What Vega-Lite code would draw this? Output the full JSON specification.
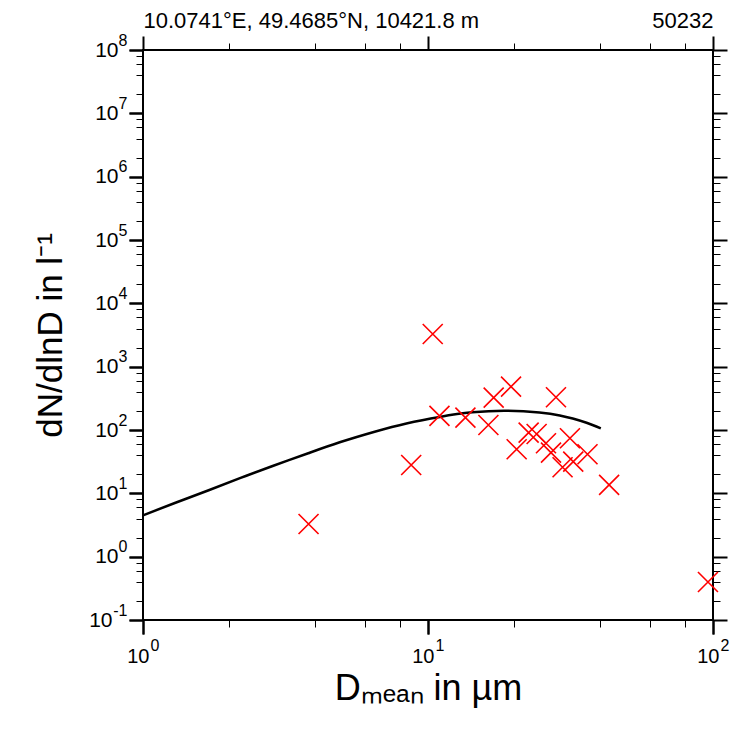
{
  "$schema": "https://vega.github.io/schema/vega-lite/v6.json",
  "width": 570,
  "height": 570,
  "autosize": "none",
  "padding": {"left": 143, "top": 50, "right": 34, "bottom": 111},
  "background": "white",
  "config": {
    "view": {"stroke": "black", "strokeWidth": 2},
    "axis": {
      "domain": false,
      "grid": false,
      "tickColor": "black",
      "labelFont": "Liberation Sans",
      "titleFont": "Liberation Sans",
      "labelColor": "black",
      "titleColor": "black",
      "titleFontWeight": "normal"
    }
  },
  "datasets": {
    "obs": [
      {"D": 3.81, "N": 3.28},
      {"D": 8.73, "N": 28.0},
      {"D": 10.39, "N": 3284},
      {"D": 10.97, "N": 167},
      {"D": 13.53, "N": 157},
      {"D": 16.29, "N": 120},
      {"D": 17.0, "N": 324},
      {"D": 19.56, "N": 483},
      {"D": 20.47, "N": 49.6},
      {"D": 28.12, "N": 329},
      {"D": 22.55, "N": 90.8},
      {"D": 24.05, "N": 86.6},
      {"D": 25.94, "N": 61.8},
      {"D": 27.01, "N": 43.9},
      {"D": 31.48, "N": 74.1},
      {"D": 29.66, "N": 25.8},
      {"D": 32.33, "N": 31.6},
      {"D": 36.28, "N": 41.4},
      {"D": 43.2, "N": 13.6},
      {"D": 96.0, "N": 0.398}
    ],
    "fit": [
      {"D": 1.0, "N": 4.5},
      {"D": 1.3, "N": 7.1},
      {"D": 1.7, "N": 11.2},
      {"D": 2.2, "N": 17.5},
      {"D": 2.85, "N": 27},
      {"D": 3.8, "N": 43},
      {"D": 4.9, "N": 64},
      {"D": 6.5, "N": 94},
      {"D": 8.4, "N": 127},
      {"D": 11.0, "N": 161},
      {"D": 14.3, "N": 190},
      {"D": 18.8, "N": 202},
      {"D": 24.6, "N": 189},
      {"D": 29.0, "N": 170},
      {"D": 32.2, "N": 152},
      {"D": 36.0, "N": 130},
      {"D": 40.4, "N": 106}
    ]
  },
  "layer": [
    {
      "data": {"name": "fit"},
      "mark": {"type": "line", "color": "black", "strokeWidth": 2.5, "interpolate": "natural"},
      "encoding": {
        "x": {"field": "D", "type": "quantitative",
          "scale": {"type": "log", "domain": [1, 100], "nice": false},
          "axis": {"orient": "bottom", "values": [2, 4, 6, 8, 20, 40, 60, 80], "labels": false, "tickSize": 7, "tickWidth": 1, "title": null}},
        "y": {"field": "N", "type": "quantitative",
          "scale": {"type": "log", "domain": [0.1, 100000000], "nice": false},
          "axis": {"orient": "left", "values": [0.2, 0.4, 0.6, 0.8, 2, 4, 6, 8, 20, 40, 60, 80, 200, 400, 600, 800, 2000, 4000, 6000, 8000, 20000, 40000, 60000, 80000, 200000, 400000, 600000, 800000, 2000000, 4000000, 6000000, 8000000, 20000000, 40000000, 60000000, 80000000], "labels": false, "tickSize": 7, "tickWidth": 1, "title": null}}
      }
    },
    {
      "data": {"name": "obs"},
      "mark": {"type": "point", "shape": "M-1,-1L1,1M-1,1L1,-1", "filled": false, "color": "red", "strokeWidth": 1.6, "size": 400, "opacity": 1},
      "encoding": {
        "x": {"field": "D", "type": "quantitative",
          "scale": {"type": "log", "domain": [1, 100], "nice": false},
          "axis": {"orient": "bottom", "values": [1, 10, 100], "tickSize": 14, "tickWidth": 2,
            "labelExpr": "'10'", "labelFontSize": 20, "labelAlign": "right", "labelBaseline": "top",
            "labelOffset": 6, "labelPadding": 12, "labelFlush": false, "labelOverlap": false,
            "title": "Dₘₑₐₙ in µm", "titleFontSize": 36, "titlePadding": 5}},
        "y": {"field": "N", "type": "quantitative",
          "scale": {"type": "log", "domain": [0.1, 100000000], "nice": false},
          "axis": {"orient": "left", "values": [0.1, 1, 10, 100, 1000, 10000, 100000, 1000000, 10000000, 100000000], "tickSize": 14, "tickWidth": 2,
            "labelExpr": "'10'", "labelFontSize": 21, "labelAlign": "right", "labelBaseline": "middle",
            "labelPadding": {"condition": {"test": "datum.value < 0.5", "value": 17}, "value": 11},
            "labelFlush": false, "labelOverlap": false,
            "title": "dN/dlnD in l⁻¹", "titleFontSize": 35, "titlePadding": 20}}
      }
    },
    {
      "data": {"name": "fit"},
      "mark": {"type": "line", "opacity": 0},
      "encoding": {
        "x": {"field": "D", "type": "quantitative",
          "scale": {"type": "log", "domain": [1, 100], "nice": false},
          "axis": {"orient": "top", "values": [1, 10, 100], "labels": false, "tickSize": 14, "tickWidth": 2,
            "title": "50232", "titleAnchor": "end", "titleFontSize": 22, "titlePadding": 3}},
        "y": {"field": "N", "type": "quantitative",
          "scale": {"type": "log", "domain": [0.1, 100000000], "nice": false},
          "axis": {"orient": "right", "values": [0.1, 1, 10, 100, 1000, 10000, 100000, 1000000, 10000000, 100000000], "labels": false, "tickSize": 14, "tickWidth": 2, "title": null}}
      }
    },
    {
      "data": {"name": "fit"},
      "mark": {"type": "line", "opacity": 0},
      "encoding": {
        "x": {"field": "D", "type": "quantitative",
          "scale": {"type": "log", "domain": [1, 100], "nice": false},
          "axis": {"orient": "top", "values": [2, 4, 6, 8, 20, 40, 60, 80], "labels": false, "tickSize": 7, "tickWidth": 1,
            "title": "10.0741°E, 49.4685°N, 10421.8 m", "titleAnchor": "start", "titleFontSize": 22, "titlePadding": 10}},
        "y": {"field": "N", "type": "quantitative",
          "scale": {"type": "log", "domain": [0.1, 100000000], "nice": false},
          "axis": {"orient": "right", "values": [0.2, 0.4, 0.6, 0.8, 2, 4, 6, 8, 20, 40, 60, 80, 200, 400, 600, 800, 2000, 4000, 6000, 8000, 20000, 40000, 60000, 80000, 200000, 400000, 600000, 800000, 2000000, 4000000, 6000000, 8000000, 20000000, 40000000, 60000000, 80000000], "labels": false, "tickSize": 7, "tickWidth": 1, "title": null}}
      }
    },
    {
      "data": {"name": "fit"},
      "mark": {"type": "line", "opacity": 0},
      "encoding": {
        "x": {"field": "D", "type": "quantitative",
          "scale": {"type": "log", "domain": [1, 100], "nice": false},
          "axis": {"orient": "bottom", "values": [1, 10, 100], "tickSize": 14, "tickWidth": 2,
            "labelExpr": "'' + round(log(datum.value)/LN10)", "labelFontSize": 16, "labelAlign": "left", "labelBaseline": "top",
            "labelOffset": 7, "labelPadding": 3, "labelFlush": false, "labelOverlap": false, "title": null}},
        "y": {"field": "N", "type": "quantitative",
          "scale": {"type": "log", "domain": [0.1, 100000000], "nice": false},
          "axis": {"orient": "left", "values": [0.1, 1, 10, 100, 1000, 10000, 100000, 1000000, 10000000, 100000000], "tickSize": 14, "tickWidth": 2,
            "labelExpr": "'' + round(log(datum.value)/LN10)", "labelFontSize": 16, "labelAlign": "right", "labelBaseline": "middle",
            "labelOffset": -10, "labelPadding": 2, "labelFlush": false, "labelOverlap": false, "title": null}}
      }
    }
  ],
  "resolve": {"axis": {"x": "independent", "y": "independent"}}
}
